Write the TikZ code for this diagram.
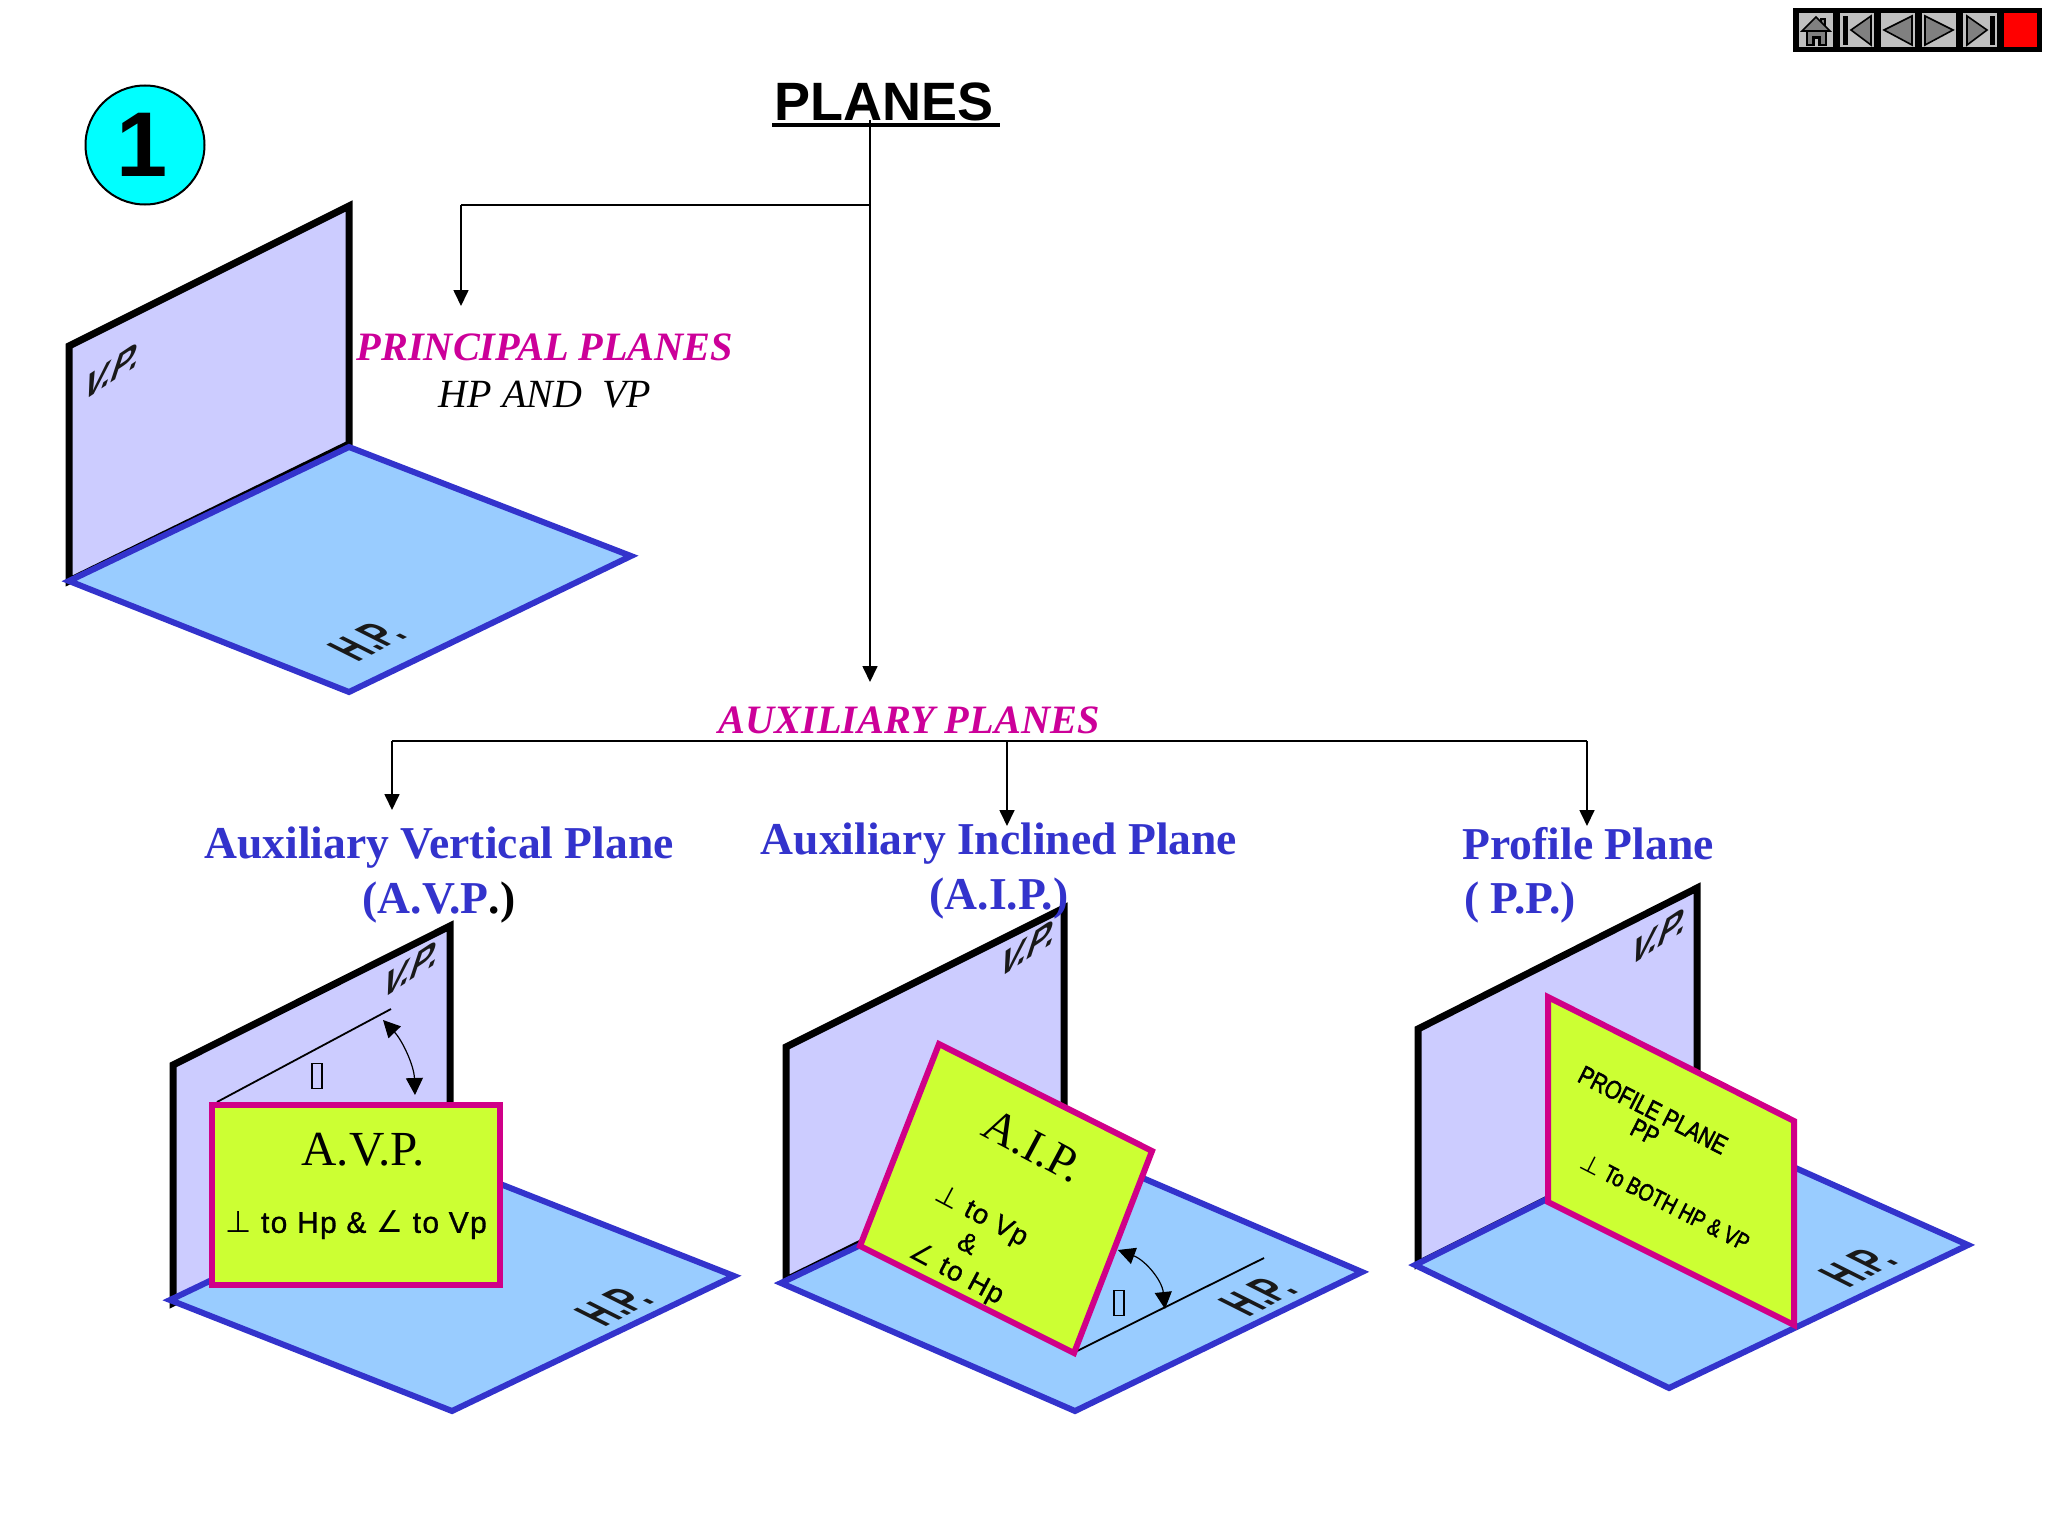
\documentclass[tikz,border=0pt]{standalone}
\usepackage{fontspec}
\setmainfont{Liberation Serif}
\newfontfamily\arial{Liberation Sans}
\newfontfamily\spaced[FakeBold=1,LetterSpace=4.5]{Liberation Sans}
\newfontfamily\cond[FakeStretch=0.8,FakeBold=2]{Liberation Sans}
\newfontfamily\symb{DejaVu Sans}
\usetikzlibrary{arrows.meta}
\definecolor{vpfill}{HTML}{CCCCFF}
\definecolor{hpfill}{HTML}{99CCFF}
\definecolor{hpline}{HTML}{3333CC}
\definecolor{plyellow}{HTML}{CCFF33}
\definecolor{plmag}{HTML}{D00088}
\definecolor{txmag}{HTML}{CC0099}
\definecolor{navgray}{HTML}{C0C0C0}
\definecolor{navdark}{HTML}{808080}
\definecolor{badgecyan}{HTML}{00FFFF}
\newcommand{\fs}[1]{\fontsize{#1}{#1}\selectfont}
\newcommand{\perpsym}{{\symb ⊥}}
\newcommand{\angsym}{{\symb ∠}}
\tikzset{
  vp/.style={draw=black,line width=7pt,fill=vpfill,miter limit=10},
  hp/.style={draw=hpline,line width=6pt,fill=hpfill,miter limit=10},
  ypl/.style={draw=plmag,line width=6pt,fill=plyellow,miter limit=10},
  conn/.style={draw=black,line width=1.7pt},
  arr/.style={conn,-{Triangle[length=16pt,width=15pt]}},
  angarr/.style={draw=black,line width=1.2pt,{Triangle[length=17pt,width=17pt]}-{Triangle[length=17pt,width=17pt]}},
  refl/.style={draw=black,line width=1.8pt},
  tofu/.style={draw=black,line width=1.8pt,minimum width=10pt,minimum height=25pt,inner sep=0pt},
  vplab/.style={inner sep=0pt,font=\arial\bfseries\fs{32},text=black!90,cm={1.05,.7,.43,1.32,(0,0)}},
  hplab/.style={inner sep=0pt,font=\arial\bfseries\fs{31},text=black!90,cm={.92,.46,-1.53,.77,(0,0)}},
  ptitle/.style={inner sep=0pt,font=\bfseries\fs{45.6},text=hpline},
  pmag/.style={inner sep=0pt,font=\bfseries\itshape\fs{40.3},text=txmag},
  navcell/.style={fill=navgray,draw=none},
  navicon/.style={fill=navdark,draw=black,line width=1.6pt,line join=miter},
}
\begin{document}
\begin{tikzpicture}[x=1pt,y=-1pt]
\useasboundingbox (0,0) rectangle (2048,1536);
% navigation bar
\fill[black] (1793,8) rectangle (2042,52);
\foreach \cx/\nm in {1816/a,1857/b,1898/c,1939/d,1980/e}{
  \fill[navcell] (\cx-17,13) rectangle (\cx+17,47);
}
\fill[red] (2004,13) rectangle (2037,47);
% home
\fill[navdark] (1807,30) rectangle (1826,45);
\draw[navicon] (1821,19) rectangle (1825,28);
\draw[navicon] (1802,31) -- (1816,17) -- (1830,31) -- cycle;
\draw[black,line width=1.6pt] (1807,31) rectangle (1826,45);
\fill[black] (1812,36) rectangle (1821,46);
\fill[navgray] (1815,39) rectangle (1818,46);
% first
\fill[black] (1843,16) rectangle (1848,45);
\draw[navicon] (1851,30) -- (1871,16) -- (1871,45) -- cycle;
% prev
\draw[navicon] (1884,30) -- (1912,16) -- (1912,45) -- cycle;
% next
\draw[navicon] (1953,30) -- (1925,16) -- (1925,45) -- cycle;
% last
\draw[navicon] (1987,30) -- (1967,16) -- (1967,45) -- cycle;
\fill[black] (1990,16) rectangle (1995,45);

% number badge
\node[circle,draw=black,line width=2pt,fill=badgecyan,minimum size=119pt,inner sep=0pt,font=\arial\bfseries\fs{92}] (badge) at (145,145) {\raisebox{-4pt}{\hspace{-5pt}1}};

% title and tree
\node[inner sep=0pt,font=\arial\bfseries\fs{54}] (planes) at (884,102) {PLANES};
\draw[black,line width=3.5pt] (772,125) -- (1000,125);
\coordinate (trunk) at (870,120);
\coordinate (split) at (870,205);
\coordinate (princorner) at (461,205);
\coordinate (printip) at (461,306);
\coordinate (auxtip) at (870,682);
\coordinate (barL) at (392,741);
\coordinate (barM) at (1007,741);
\coordinate (barR) at (1587,741);
\coordinate (tipL) at (392,810);
\coordinate (tipM) at (1007,826);
\coordinate (tipR) at (1587,826);
\draw[conn] (split) -- (princorner);
\draw[arr] (princorner) -- (printip);
\draw[arr] (trunk) -- (auxtip);
\draw[conn] (barL) -- (barR);
\draw[arr] (barL) -- (tipL);
\draw[arr] (barM) -- (tipM);
\draw[arr] (barR) -- (tipR);

\node[pmag] (princ) at (545,347) {PRINCIPAL PLANES};
\node[inner sep=0pt,font=\itshape\fs{40}] (hpvp) at (545,395) {HP AND\ \ VP};
\node[pmag] (aux) at (909,720) {AUXILIARY PLANES};

\node[ptitle] (t1) at (439,848) {Auxiliary Vertical Plane};
\node[ptitle] (t1b) at (439,903) {(A.V.P{\color{black}.)}};
\node[ptitle] (t2) at (999,844) {Auxiliary Inclined Plane};
\node[ptitle] (t3) at (1588,844) {Profile Plane};
\node[ptitle,anchor=west] (t3b) at (1464,903) {(\ P.P.)};

% principal planes
\draw[vp] (69,346) -- (349,206) -- (349,444) -- (69,581) -- cycle;
\draw[hp] (69,581) -- (349,447) -- (631,556) -- (349,692) -- cycle;
\node[vplab] (vp0) at (113,370) {V.P.};
\node[hplab] (hp0) at (367,641) {H.P.};

% A.V.P.
\draw[vp] (173,1065) -- (450,926) -- (450,1165) -- (173,1303) -- cycle;
\draw[hp] (170,1300) -- (452,1165) -- (734,1276) -- (452,1411) -- cycle;
\node[vplab] (vp1) at (412,968) {V.P.};
\node[hplab] (hp1) at (614,1306) {H.P.};
\coordinate (rayA) at (217,1102);
\coordinate (rayB) at (391,1009);
\draw[refl] (rayA) -- (rayB);
\coordinate (angA1) at (383,1020);
\coordinate (angA2) at (415,1095);
\draw[angarr] (angA1) .. controls (402,1040) and (414,1065) .. (angA2);
\node[tofu] (th1) at (317,1076) {};
\draw[ypl] (212,1105) rectangle (500,1285);
\node[inner sep=0pt,font=\fs{49}] (avp) at (363,1150) {A.V.P.};
\node[inner sep=0pt,font=\spaced\fs{30}] (avpt) at (356,1225) {\perpsym{} to Hp \& \angsym{} to Vp};

% A.I.P.
\draw[vp] (786,1047) -- (1064,908) -- (1064,1143) -- (786,1280) -- cycle;
\draw[hp] (781,1283) -- (1068,1146) -- (1362,1272) -- (1075,1411) -- cycle;
\node[vplab] (vp2) at (1029,947) {V.P.};
\node[hplab] (hp2) at (1258,1296) {H.P.};
\coordinate (rayC) at (1075,1352);
\coordinate (rayD) at (1264,1258);
\draw[refl] (rayC) -- (rayD);
\coordinate (angB1) at (1118,1250);
\coordinate (angB2) at (1165,1309);
\draw[angarr] (angB1) .. controls (1145,1260) and (1162,1280) .. (angB2);
\node[tofu] (th2) at (1119,1303) {};
\draw[ypl] (939,1044) -- (1152,1151) -- (1074,1353) -- (860,1246) -- cycle;
\node[inner sep=0pt,font=\fs{47},rotate=-28] (aip) at (1033,1146) {A.I.P.};
\node[inner sep=0pt,font=\spaced\fs{27.5},rotate=-28] (aipa) at (981,1217) {\perpsym{} to Vp};
\node[inner sep=0pt,font=\spaced\fs{27.5},rotate=-28] (aipb) at (968,1243) {\&};
\node[inner sep=0pt,font=\spaced\fs{27.5},rotate=-28] (aipc) at (956,1274) {\angsym{} to Hp};
\node[ptitle] (t2b) at (999,899) {(A.I.P.)};

% P.P.
\draw[vp] (1418,1029) -- (1697,888) -- (1697,1124) -- (1418,1264) -- cycle;
\draw[hp] (1415,1265) -- (1697,1124) -- (1968,1245) -- (1669,1388) -- cycle;
\node[vplab] (vp3) at (1660,935) {V.P.};
\node[hplab] (hp3) at (1858,1267) {H.P.};
\draw[ypl] (1548,997) -- (1794,1121) -- (1794,1325) -- (1548,1202) -- cycle;
\node[inner sep=0pt,font=\cond\fs{26},rotate=-27] (ppa) at (1653,1110) {PROFILE PLANE};
\node[inner sep=0pt,font=\cond\fs{26},rotate=-27] (ppb) at (1645,1132) {PP};
\node[inner sep=0pt,font=\cond\fs{24},rotate=-27] (ppc) at (1665,1202) {\perpsym{} To BOTH HP \& VP};
\end{tikzpicture}
\end{document}
